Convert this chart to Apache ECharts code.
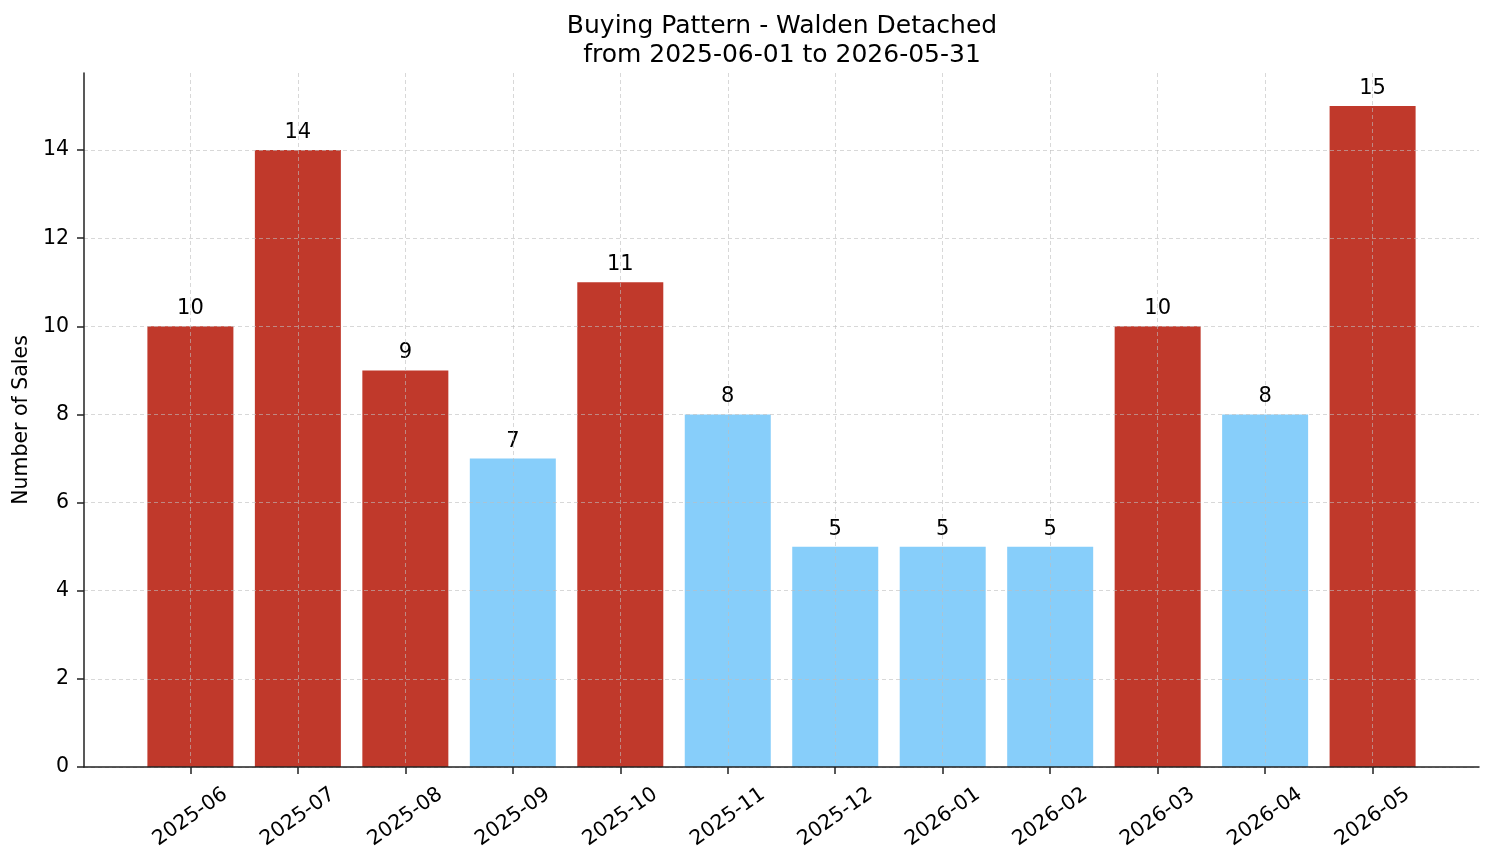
<!DOCTYPE html>
<html>
<head>
<meta charset="utf-8">
<script src="https://cdn.jsdelivr.net/npm/echarts@6/dist/echarts.min.js"></script>
<style>
  html, body { margin: 0; padding: 0; background: #fff; }
  #chart { width: 1494px; height: 863px; }
</style>
</head>
<body>
<div id="chart"></div>
<script>
// months shown on the x axis
const months = ['2025-06', '2025-07', '2025-08', '2025-09', '2025-10', '2025-11',
  '2025-12', '2026-01', '2026-02', '2026-03', '2026-04', '2026-05'];
// number of sales per month
const sales = [10, 14, 9, 7, 11, 8, 5, 5, 5, 10, 8, 15];
// months drawn red (the rest are light blue)
const highMonths = [true, true, true, false, true, false, false, false, false, true, false, true];
const yTicks = [0, 2, 4, 6, 8, 10, 12, 14];

const chart = echarts.init(document.getElementById('chart'));
const font = 'DejaVu Sans';
const gridLine = { show: true, lineStyle: { color: 'rgba(190,190,190,0.6)', type: [4, 3], width: 1 } };
const axisColor = '#222';

const option = {
  animation: false,
  textStyle: { fontFamily: font },
  title: {
    text: 'Buying Pattern - Walden Detached\nfrom 2025-06-01 to 2026-05-31',
    left: 777, top: 7, textAlign: 'center',
    textStyle: { fontFamily: font, fontWeight: 'normal', fontSize: 25, color: '#000', lineHeight: 29 }
  },
  grid: { left: 84, right: 15, top: 73, bottom: 96, outerBoundsMode: 'none', containLabel: false },
  xAxis: {
    type: 'value',
    min: -0.99, max: 11.99,
    z: 5,
    axisLine: { show: true, onZero: false, lineStyle: { color: axisColor, width: 1.5 } },
    axisTick: { show: true, length: 7, customValues: months.map((m, i) => i), lineStyle: { color: axisColor, width: 1.5 } },
    axisLabel: {
      customValues: months.map((m, i) => i),
      formatter: (v) => months[Math.round(v)] || '',
      rotate: 35, fontSize: 20.5, color: '#000', fontFamily: font,
      align: 'center', verticalAlign: 'middle',
      margin: 50
    },
    splitLine: gridLine
  },
  yAxis: {
    type: 'value',
    min: 0, max: 15.75,
    z: 5,
    name: 'Number of Sales',
    nameLocation: 'middle', nameGap: 50,
    nameTextStyle: { fontSize: 20.5, color: '#000', fontFamily: font },
    axisLine: { show: true, onZero: false, lineStyle: { color: axisColor, width: 1.5 } },
    axisTick: { show: true, length: 7, customValues: yTicks, lineStyle: { color: axisColor, width: 1.5 } },
    axisLabel: { customValues: yTicks, fontSize: 20.5, color: '#000', fontFamily: font, margin: 15 },
    splitLine: gridLine
  },
  series: [{
    type: 'bar',
    barWidth: 86,
    data: sales.map((v, i) => ({
      value: [i, v],
      itemStyle: { color: highMonths[i] ? '#c0392b' : '#87cefa' }
    })),
    label: {
      show: true, position: 'top', distance: 7,
      formatter: (p) => p.value[1],
      fontSize: 21, color: '#000', fontFamily: font
    }
  }]
};

chart.setOption(option);
</script>
</body>
</html>
